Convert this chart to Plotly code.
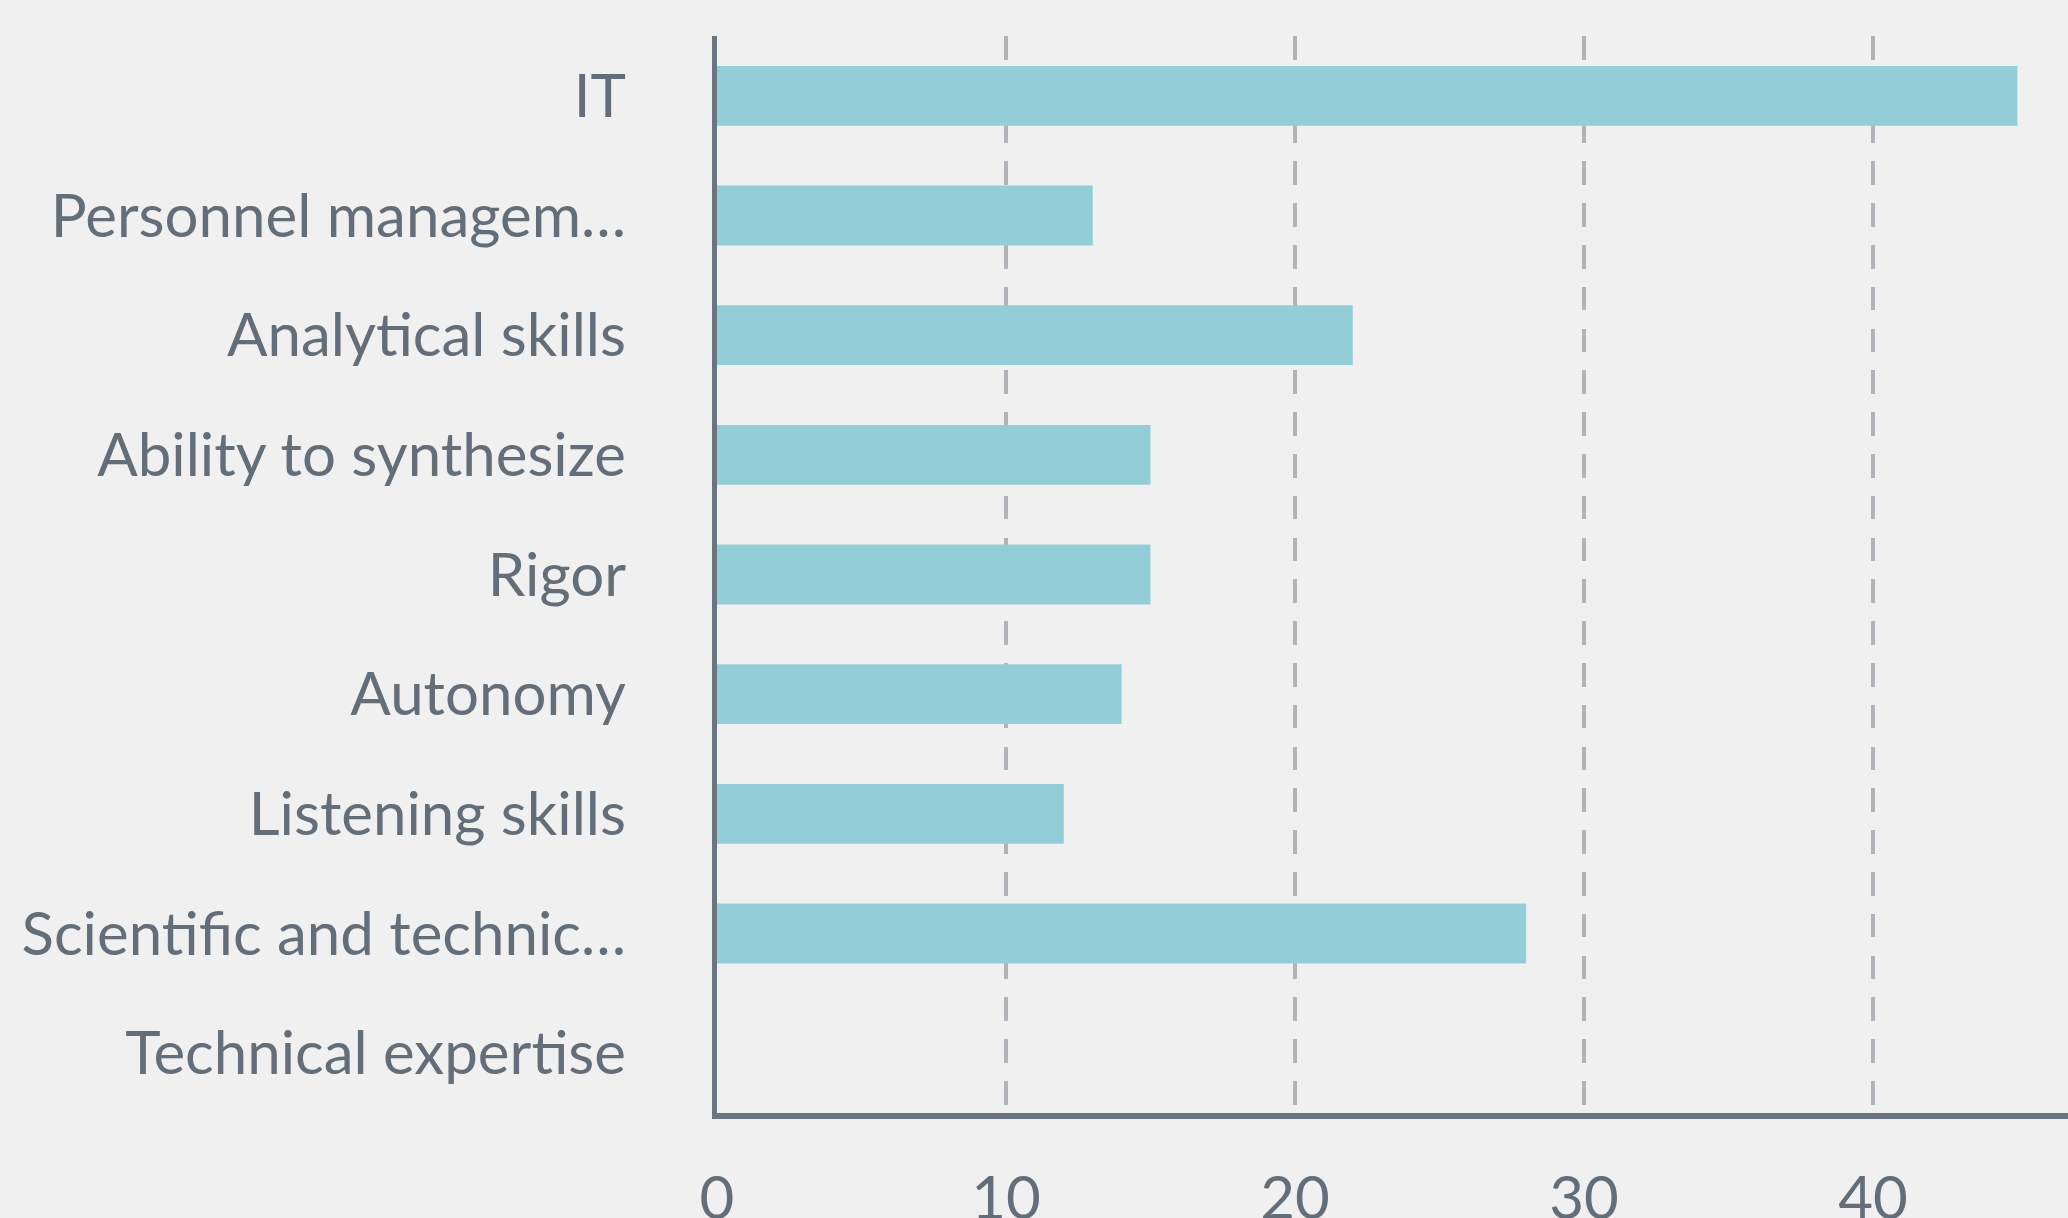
import plotly.graph_objects as go

categories = ["IT", "Personnel managem…", "Analytical skills", "Ability to synthesize",
              "Rigor", "Autonomy", "Listening skills", "Scientific and technic…",
              "Technical expertise"]
values = [45, 13, 22, 15, 15, 14, 12, 28, 0]
x_ticks = [0, 10, 20, 30, 40]

text_color = "#646e78"
axis_color = "#6b7580"
bg = "#f0f0f0"

fig = go.Figure(go.Bar(
    x=values, y=categories, orientation="h",
    marker=dict(color="#93ced8", line=dict(width=0)),
    hoverinfo="skip",
))

fig.update_layout(
    width=2068, height=1218,
    margin=dict(l=717, r=0, t=36, b=105, pad=0),
    paper_bgcolor=bg, plot_bgcolor="rgba(0,0,0,0)",
    bargap=0.5,
    showlegend=False,
    font=dict(family="Lato", color=text_color, size=60),
)
fig.update_xaxes(
    range=[0, 46.75], tickvals=x_ticks, ticktext=[str(v) for v in x_ticks],
    showgrid=True, gridcolor="#b0b3b7", gridwidth=4, griddash="23.5px,18.3px",
    zeroline=False, showline=True, linecolor=axis_color, linewidth=6,
    ticks="", ticklabelstandoff=28, automargin=False,
    tickfont=dict(family="Lato", size=60, color=text_color),
)
fig.update_yaxes(
    autorange="reversed", type="category",
    showgrid=False, zeroline=False, showline=True, linecolor=axis_color, linewidth=5,
    ticks="", ticklabelstandoff=74, automargin=False,
    tickfont=dict(family="Lato", size=60, color=text_color),
)
fig.write_html(
    "out.html",
    config={"displayModeBar": False},
    post_script="document.body.style.margin='0';document.body.style.background='%s';" % bg,
)
